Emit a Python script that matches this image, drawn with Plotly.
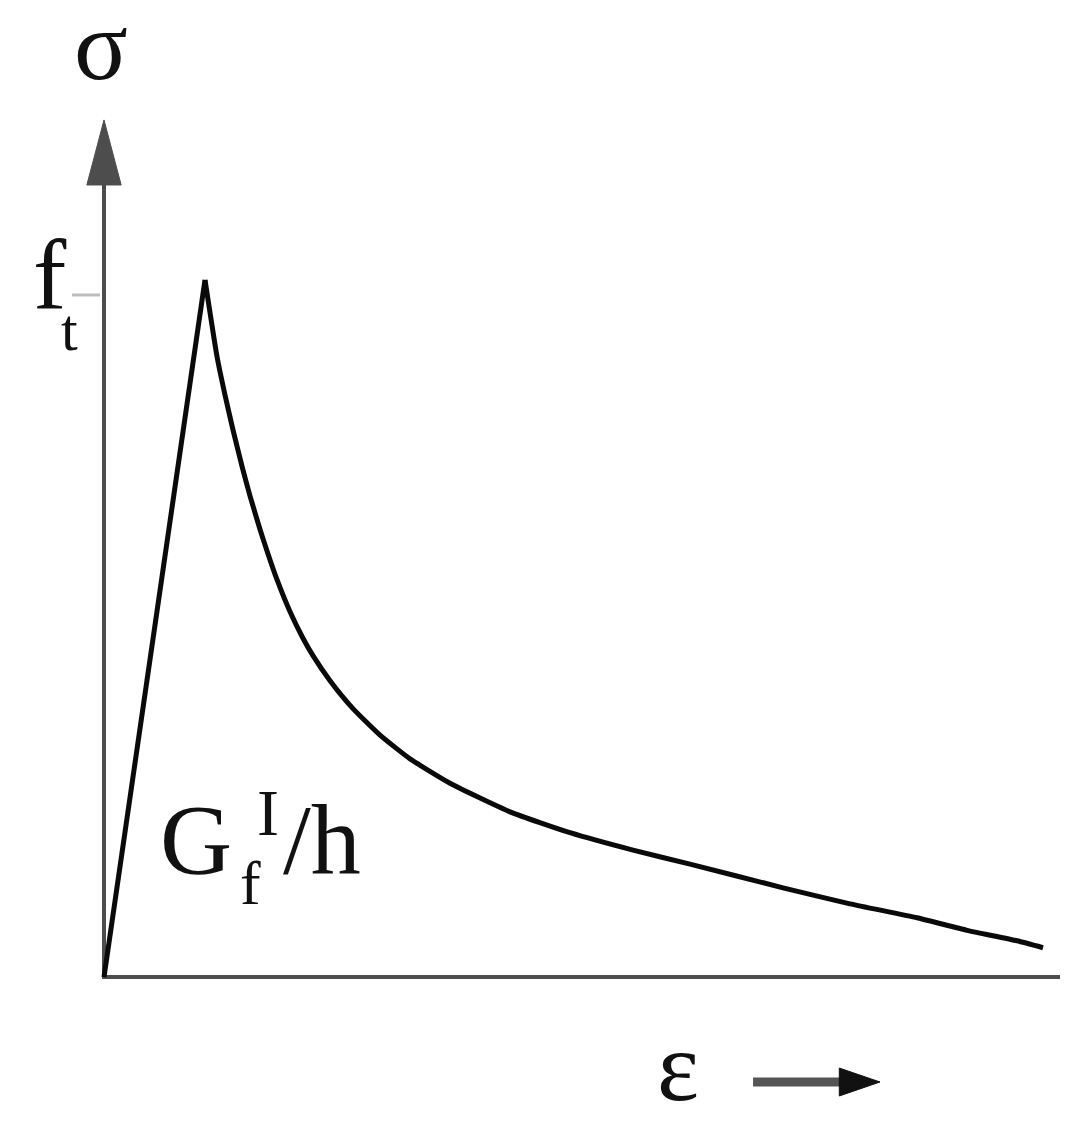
import plotly.graph_objects as go

# Normalised strain (eps / eps_peak) and stress (sigma / f_t)
strain = [0.0, 1.0, 1.119, 1.198, 1.277, 1.366, 1.446, 1.545, 1.624, 1.713,
          1.842, 1.970, 2.069, 2.238, 2.465, 2.733, 3.030, 3.426, 4.020,
          4.614, 5.238, 5.802, 6.723, 7.386, 8.050, 8.545, 9.040, 9.297]
stress = [0.0, 1.0, 0.890, 0.835, 0.785, 0.733, 0.690, 0.642, 0.607, 0.570,
          0.524, 0.486, 0.461, 0.425, 0.385, 0.347, 0.313, 0.278, 0.237,
          0.207, 0.182, 0.162, 0.128, 0.105, 0.085, 0.067, 0.052, 0.042]
peak = 1  # index of the peak point

# axis extents (same units)
x_axis_end = 9.465
y_axis_top = 1.1363
y_arrow_tip = 1.2296
ft_tick = 0.9785

# page has an 8px body margin, so the figure is 1074x1114 starting at (8, 8)
X_RANGE = [-0.9505, 9.683]
Y_RANGE = [-0.2080, 1.3902]

axis_col = '#4d4d4d'
serif = 'Liberation Serif, Times New Roman, serif'

fig = go.Figure()

# axes
fig.add_trace(go.Scatter(x=[0, 0, x_axis_end], y=[y_axis_top, 0, 0], mode='lines',
                         line=dict(color=axis_col, width=4), hoverinfo='skip'))
# arrow head of the stress axis
fig.add_trace(go.Scatter(x=[-0.17, 0.17, 0, -0.17],
                         y=[y_axis_top, y_axis_top, y_arrow_tip, y_axis_top],
                         mode='lines', fill='toself', fillcolor=axis_col,
                         line=dict(color=axis_col, width=1), hoverinfo='skip'))
# f_t tick
fig.add_trace(go.Scatter(x=[-0.317, -0.04], y=[ft_tick, ft_tick], mode='lines',
                         line=dict(color='#bdbdbd', width=3), hoverinfo='skip'))

# softening curve: linear rise, smooth decay
fig.add_trace(go.Scatter(x=strain[:peak + 1], y=stress[:peak + 1], mode='lines',
                         line=dict(color='#0a0a0a', width=5), hoverinfo='skip'))
fig.add_trace(go.Scatter(x=strain[peak:], y=stress[peak:], mode='lines',
                         line=dict(color='#0a0a0a', width=5, shape='spline', smoothing=0.5),
                         hoverinfo='skip'))

# strain direction arrow below the axis
fig.add_trace(go.Scatter(x=[6.426, 7.29], y=[-0.1506, -0.1506], mode='lines',
                         line=dict(color='#555555', width=9), hoverinfo='skip'))
fig.add_trace(go.Scatter(x=[7.28, 7.683, 7.28, 7.28], y=[-0.1306, -0.1506, -0.1707, -0.1306],
                         mode='lines', fill='toself', fillcolor='#111111',
                         line=dict(color='#111111', width=1), hoverinfo='skip'))


def label(txt, x, y, size):
    fig.add_annotation(x=x, y=y, xref='x', yref='y', text=txt, showarrow=False,
                       xanchor='center', yanchor='middle',
                       font=dict(family=serif, size=size, color='#111111'))


def px(xp, yp):
    return (xp - 104) / 101, (977 - yp) / 697


label('σ', *px(101, 46), 100)
label('f', *px(50, 276), 100)
label('t', *px(69, 330), 60)
label('G', *px(196, 839), 100)
label('f', *px(250, 883), 62)
label('I', *px(268, 812), 66)
label('/h', *px(322, 839), 100)
label('ε', *px(678, 1066), 100)

fig.update_layout(
    width=1074, height=1114,
    margin=dict(l=0, r=0, t=0, b=0),
    plot_bgcolor='white', paper_bgcolor='white',
    showlegend=False,
    xaxis=dict(range=X_RANGE, visible=False, fixedrange=True),
    yaxis=dict(range=Y_RANGE, visible=False, fixedrange=True),
)
fig.update_traces(cliponaxis=False)

fig.write_html("out.html")
